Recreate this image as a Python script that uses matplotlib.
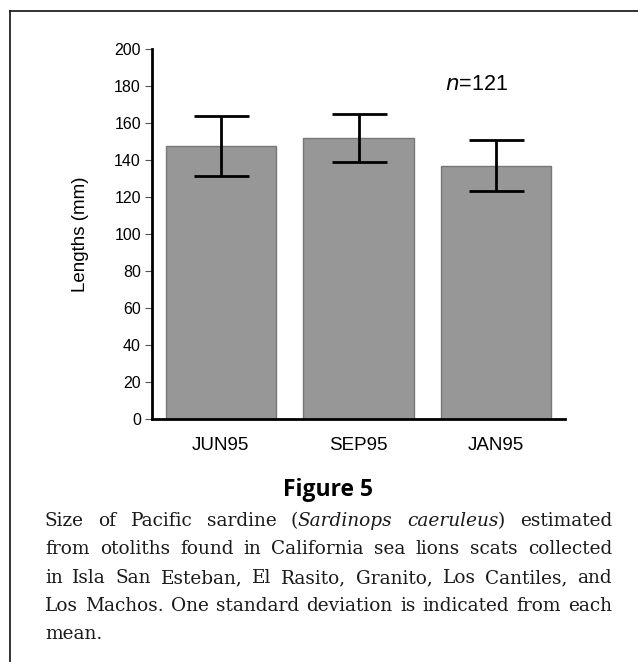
import matplotlib
matplotlib.use("Agg")
import matplotlib.pyplot as plt
from matplotlib.lines import Line2D

months = ["JUN95", "SEP95", "JAN95"]
mean_lengths = [147.6, 151.9, 136.9]
sd_lengths = [16.2, 13.0, 13.7]
y_ticks = [0, 20, 40, 60, 80, 100, 120, 140, 160, 180, 200]
n_label = "121"

caption_lines = [
    [("Size of Pacific sardine (", "normal"), ("Sardinops caeruleus", "italic"), (") estimated", "normal")],
    [("from otoliths found in California sea lions scats collected", "normal")],
    [("in Isla San Esteban, El Rasito, Granito, Los Cantiles, and", "normal")],
    [("Los Machos. One standard deviation is indicated from each", "normal")],
    [("mean.", "normal")],
]

W, H = 638, 662
fig = plt.figure(figsize=(W / 100, H / 100), dpi=100)
ax = fig.add_axes([152 / W, 1 - 419 / H, (565 - 152) / W, (419 - 49) / H])

x = list(range(len(months)))
ax.bar(x, mean_lengths, width=0.8, color="#979797", edgecolor="#777777", linewidth=1.0, zorder=2)
ax.errorbar(x, mean_lengths, yerr=sd_lengths, fmt="none", ecolor="black",
            elinewidth=2, capsize=19.8, capthick=2, zorder=3)

ax.set_xlim(-0.5, 2.5)
ax.set_ylim(0, 200)
ax.set_yticks(y_ticks)
ax.set_xticks(x)
ax.set_xticklabels(months, fontsize=13.5, family="Liberation Sans")
for lab in ax.get_yticklabels():
    lab.set_fontsize(11.5)
    lab.set_family("Liberation Sans")
ax.tick_params(axis="x", length=0, pad=13)
ax.tick_params(axis="y", length=5, width=0.8, color="#555555", pad=3)
for s in ["top", "right"]:
    ax.spines[s].set_visible(False)
ax.spines["left"].set_linewidth(2)
ax.spines["bottom"].set_linewidth(2)
ax.set_ylabel("Lengths (mm)", fontsize=13.5, family="Liberation Sans", labelpad=18)

ax.text(1.86, 181, r"$\mathit{n}$=" + n_label, fontsize=15.5, family="Liberation Sans",
        ha="center", va="center")

# frame lines (left and top)
fig.add_artist(Line2D([10 / W, 10 / W], [0, 1 - 11 / H], color="#222222", lw=1.3))
fig.add_artist(Line2D([10 / W, 1], [1 - 11 / H, 1 - 11 / H], color="#222222", lw=1.3))

fig.text(328 / W, 1 - 490 / H, "Figure 5", fontsize=16.5, fontweight="bold",
         family="Open Sans", ha="center", va="center")

# justified caption
left_px, right_px = 45, 612
line_y = [521, 549, 578, 606, 634]
renderer = fig.canvas.get_renderer()
FAM = "DejaVu Serif"


def tokenize(segs):
    tokens = []
    for text, style in segs:
        parts = text.split(" ")
        for pi, p in enumerate(parts):
            if p == "":
                continue
            glued = (pi == 0 and not text.startswith(" "))
            if tokens and glued:
                tokens[-1].append((p, style))
            else:
                tokens.append([(p, style)])
    return tokens


def measure(s, fs):
    t = fig.text(0.5, 0.5, s, fontsize=fs, family=FAM)
    w = t.get_window_extent(renderer=renderer).width
    t.remove()
    return w


base = 10.0
nat = [measure("".join(t for t, _ in segs), base) for segs in caption_lines[:-1]]
fs = base * (right_px - left_px) / max(nat) * 0.99

for li, (segs, yp) in enumerate(zip(caption_lines, line_y)):
    tokens = tokenize(segs)
    widths, artists = [], []
    for tok in tokens:
        tw, ta = [], []
        for w, style in tok:
            t = fig.text(0, 1 - yp / H, w, fontsize=fs, family=FAM,
                         style=style, va="center", ha="left", color="#1a1a1a")
            tw.append(t.get_window_extent(renderer=renderer).width)
            ta.append(t)
        widths.append(tw)
        artists.append(ta)
    total = sum(sum(tw) for tw in widths)
    ngaps = len(tokens) - 1
    if li < len(caption_lines) - 1 and ngaps > 0:
        gap = (right_px - left_px - total) / ngaps
    else:
        gap = fs * 100 / 72 * 0.3
    xp = left_px
    for tw, ta in zip(widths, artists):
        for w_, a in zip(tw, ta):
            a.set_x(xp / W)
            xp += w_
        xp += gap

fig.savefig("out.png", dpi=100)
